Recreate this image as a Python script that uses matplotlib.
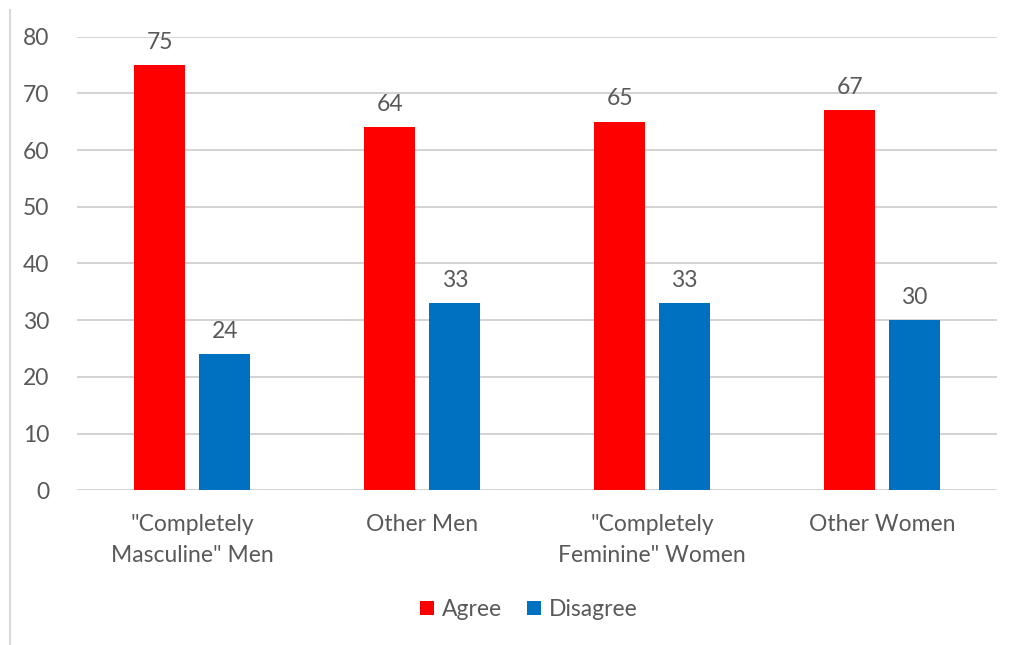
import numpy as np
import matplotlib.pyplot as plt
from matplotlib.lines import Line2D

categories = ['"Completely\nMasculine" Men', 'Other Men',
              '"Completely\nFeminine" Women', 'Other Women']
agree = [75, 64, 65, 67]
disagree = [24, 33, 33, 30]

plt.rcParams['font.family'] = ['Lato', 'DejaVu Sans']
txt = '#595959'
fs = 16.5

fig = plt.figure(figsize=(10.13, 6.45), dpi=100)
ax = fig.add_axes([0.076, 0.240, 0.908, 0.703])

x = np.arange(len(categories))
w = 0.222
b1 = ax.bar(x - 0.14, agree, w, color='#ff0000', label='Agree', zorder=3)
b2 = ax.bar(x + 0.143, disagree, w, color='#0070c0', label='Disagree', zorder=3)

for bars, vals in ((b1, agree), (b2, disagree)):
    for r, v in zip(bars, vals):
        ax.annotate(str(v), (r.get_x() + r.get_width() / 2, v),
                    xytext=(0, 9), textcoords='offset points',
                    ha='center', va='bottom', fontsize=fs, color=txt)

ax.set_xlim(-0.5, 3.5)
ax.set_ylim(0, 80)
ax.set_yticks(range(0, 81, 10))
ax.yaxis.grid(True, color='#d0d0d0', linewidth=1.3, zorder=0)
for s in ax.spines.values():
    s.set_visible(False)
ax.tick_params(axis='both', length=0, labelsize=fs, labelcolor=txt)
ax.tick_params(axis='y', pad=20)
ax.tick_params(axis='x', pad=17)
ax.set_xticks(x)
ax.set_xticklabels(categories, linespacing=1.6)

fig.legend(loc='center', bbox_to_anchor=(0.522, 0.055), ncol=2, frameon=False,
           fontsize=fs, labelcolor=txt, handlelength=0.6, handleheight=0.6,
           handletextpad=0.35, columnspacing=1.1)

fig.add_artist(Line2D([0.010, 0.010], [0.0, 0.985], transform=fig.transFigure,
                      color='#d9d9d9', linewidth=1.5))

fig.savefig('out.png', dpi=100)
